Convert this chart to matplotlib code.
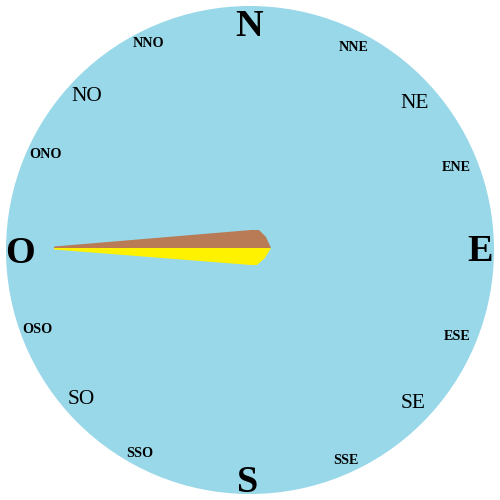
import numpy as np
import matplotlib
matplotlib.use("Agg")
import matplotlib.pyplot as plt
from matplotlib.patches import Circle, Polygon

# compass rose labels (Spanish), clockwise from north
labels = ['N', 'NNE', 'NE', 'ENE', 'E', 'ESE', 'SE', 'SSE',
          'S', 'SSO', 'SO', 'OSO', 'O', 'ONO', 'NO', 'NNO']
# wind direction in compass degrees
wind_dir = 270.0

# colours
DIAL_COLOR = '#98d8e8'
RIGHT_COLOR = '#b97b56'
LEFT_COLOR = '#fff200'

# small placement nudges (px) so labels sit like in the original dial
NUDGE = {
    'N': (-1, 0), 'NNE': (17, -6), 'NE': (4, -12), 'ENE': (-3, -3),
    'E': (3, 2), 'ESE': (-3, 2), 'SE': (3, 9), 'SSE': (9, 1),
    'S': (-2, -2), 'SSO': (-23, 8), 'SO': (-8, 13), 'OSO': (-3, 9),
    'O': (-3, 0), 'ONO': (5, 10), 'NO': (-3, -5), 'NNO': (-15, -2),
}

fig = plt.figure(figsize=(5, 5), dpi=100)
ax = fig.add_axes([0, 0, 1, 1])
ax.set_xlim(-250, 250)
ax.set_ylim(-250, 250)
ax.set_aspect('equal')
ax.axis('off')

# dial
ax.add_patch(Circle((0, 0), 244, facecolor=DIAL_COLOR, edgecolor='none'))

# labels
label_r = 227
for i, lab in enumerate(labels):
    a = np.radians(i * 22.5)
    dx, dy = NUDGE[lab]
    if len(lab) == 1:
        size, weight = 27.5, 'bold'
    elif len(lab) == 2:
        size, weight = 15.4, 'normal'
    else:
        size, weight = 10.2, 'bold'
    # va='center' sits caps a bit high, pull down by ~0.1 em
    dy -= 0.1 * size / 0.72
    x = label_r * np.sin(a) + dx
    y = label_r * np.cos(a) + dy
    ax.text(x, y, lab, ha='center', va='center', fontsize=size,
            fontweight=weight, family='Liberation Serif', color='black')

# needle, built in its own frame: u toward the tip, v to the right side
half_right = [(196, 0.0), (196, 1.5), (-1, 18), (-9, 18), (-16, 11), (-21, 0)]
half_left = [(196, 0.0), (196, -1.5), (-1, -17), (-7, -17), (-15, -10), (-21, 0)]
pivot = np.array([0.0, 2.0])

d = np.radians(wind_dir)
fwd = np.array([np.sin(d), np.cos(d)])
right = np.array([np.cos(d), -np.sin(d)])


def to_xy(pts):
    return [tuple(pivot + u * fwd + v * right) for u, v in pts]


ax.add_patch(Polygon(to_xy(half_right), closed=True, facecolor=RIGHT_COLOR,
                     edgecolor='none'))
ax.add_patch(Polygon(to_xy(half_left), closed=True, facecolor=LEFT_COLOR,
                     edgecolor='none'))

fig.savefig('out.png', dpi=100, facecolor='white')
